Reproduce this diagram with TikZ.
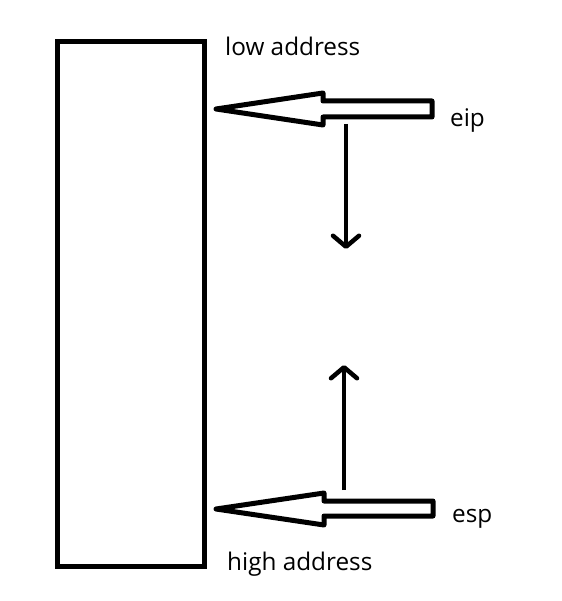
\documentclass[tikz,border=0pt]{standalone}
\usepackage{fontspec}
\setmainfont{Open Sans}
\usetikzlibrary{arrows.meta}
\begin{document}
\begin{tikzpicture}[x=1pt,y=-1pt,
  thick line/.style={line width=5pt},
  blockarrow/.style={line width=5pt, line join=round},
  vecarrow/.style={line width=4.5pt, -{Straight Barb[length=11pt,width=26pt,line cap=round,line join=round]}},
  lbl/.style={font=\fontsize{24.3}{27}\selectfont, anchor=west, inner sep=0pt}]
\useasboundingbox (0,0) rectangle (561,601);
\fill[white] (0,0) rectangle (561,601);
\draw[thick line] (57,42) rectangle (204,566);
% eip block arrow
\draw[blockarrow] (216,109) -- (323,93) -- (323,101) -- (432,101) -- (432,117) -- (323,117) -- (323,125) -- cycle;
% esp block arrow
\draw[blockarrow] (216,509) -- (324,493) -- (324,501) -- (433,501) -- (433,516) -- (324,516) -- (324,525) -- cycle;
\coordinate (d1) at (346,124);
\coordinate (d2) at (346,249);
\coordinate (u1) at (344,490);
\coordinate (u2) at (344,365);
\draw[vecarrow] (d1) -- (d2);
\draw[vecarrow] (u1) -- (u2);
\node[lbl] (low) at (225,46) {low address};
\node[lbl] (eip) at (450,121) {eip};
\node[lbl] (esp) at (452,519) {esp};
\node[lbl] (high) at (227,564) {high address};
\end{tikzpicture}
\end{document}
